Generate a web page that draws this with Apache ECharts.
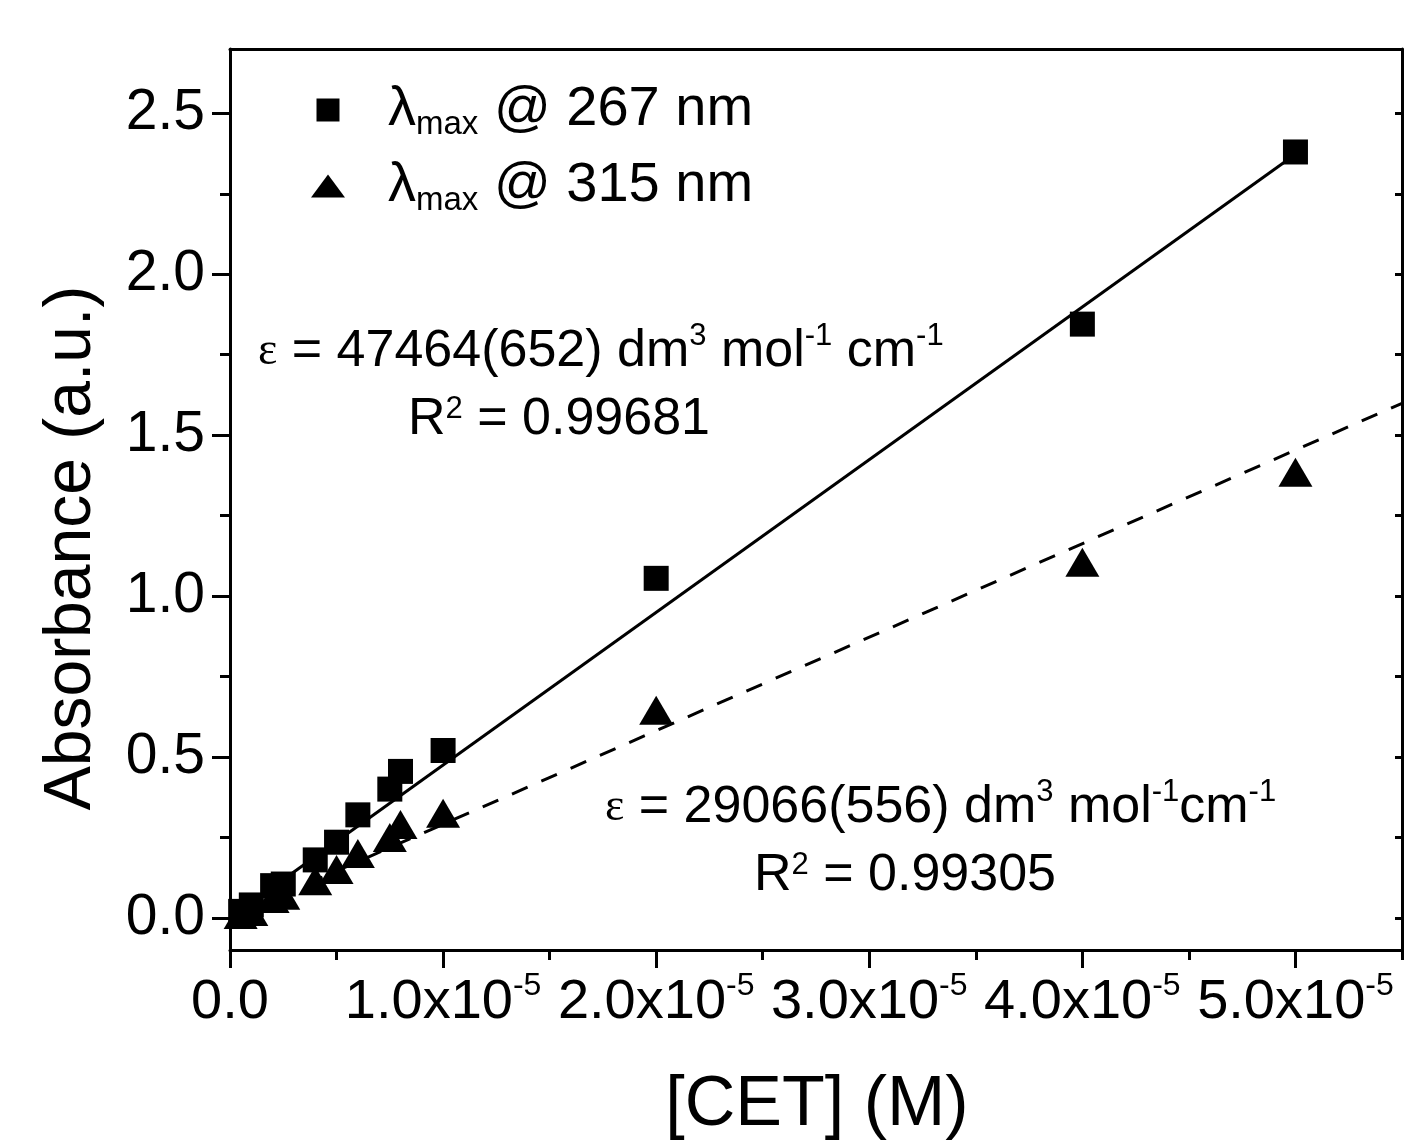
<!DOCTYPE html>
<html><head><meta charset="utf-8">
<script src="https://cdn.jsdelivr.net/npm/echarts@6/dist/echarts.min.js"></script>
<style>html,body{margin:0;padding:0;background:#fff}#c{width:1404px;height:1142px}</style>
</head><body><div id="c"></div>
<script>
// ---- data ----
const concentrations = [0.05e-5, 0.1e-5, 0.2e-5, 0.25e-5, 0.4e-5, 0.5e-5, 0.6e-5, 0.75e-5, 0.8e-5, 1.0e-5, 2.0e-5, 4.0e-5, 5.0e-5];
const abs267 = [0.02, 0.04, 0.10, 0.105, 0.18, 0.235, 0.32, 0.40, 0.455, 0.52, 1.055, 1.845, 2.38];
const abs315 = [0.01, 0.02, 0.06, 0.07, 0.115, 0.15, 0.20, 0.25, 0.29, 0.325, 0.645, 1.105, 1.385];
const fit267X = [0, 5.0e-5];
const fit267Y = [0.0, 2.373];
const fit315X = [0, 5.5e-5];
const fit315Y = [0.0, 1.599];
const xMajorTicks = [0, 1e-5, 2e-5, 3e-5, 4e-5, 5e-5];
const xMinorTicks = [0.5e-5, 1.5e-5, 2.5e-5, 3.5e-5, 4.5e-5, 5.5e-5];
const yMajorTicks = [0, 0.5, 1.0, 1.5, 2.0, 2.5];
const yMinorTicks = [0.25, 0.75, 1.25, 1.75, 2.25];
const yAllTicks = [0, 0.25, 0.5, 0.75, 1.0, 1.25, 1.5, 1.75, 2.0, 2.25, 2.5];
const seriesNames = ['267', '315'];

const FONT = '"Liberation Sans", Arial, sans-serif';
const zip = (xs, ys) => xs.map((x, i) => [x, ys[i]]);

const chart = echarts.init(document.getElementById('c'), null, {renderer: 'canvas'});
const axisLine = {show: true, onZero: false, lineStyle: {color: '#000', width: 3}};
const noLine = {show: false, onZero: false};
const baseX = {type: 'value', min: 0, max: 5.5e-5, splitLine: {show: false}, axisLine: axisLine};
const baseY = {type: 'value', min: -0.1, max: 2.7, splitLine: {show: false}, axisLine: axisLine};

const option = {
  backgroundColor: '#fff',
  animation: false,
  grid: {left: 230, right: 2, top: 49, bottom: 192, containLabel: false},
  xAxis: [
    Object.assign({}, baseX, {
      position: 'bottom',
      axisTick: {show: true, inside: false, length: 18, lineStyle: {width: 3, color: '#000'}, customValues: xMajorTicks},
      axisLabel: {
        show: true, margin: 20, customValues: xMajorTicks,
        formatter: v => v === 0 ? '{n|0.0}' : '{n|' + (v / 1e-5).toFixed(1) + 'x10}{s|-5}',
        rich: {
          n: {fontSize: 56, fontFamily: FONT, color: '#000', lineHeight: 66},
          s: {fontSize: 32, fontFamily: FONT, color: '#000', lineHeight: 16, verticalAlign: 'top'}
        }
      }
    }),
    Object.assign({}, baseX, {
      position: 'bottom', axisLine: noLine,
      axisTick: {show: true, length: 10, lineStyle: {width: 3, color: '#000'}, customValues: xMinorTicks},
      axisLabel: {show: false}
    }),
    Object.assign({}, baseX, {
      position: 'top',
      axisTick: {show: false}, axisLabel: {show: false}
    })
  ],
  yAxis: [
    Object.assign({}, baseY, {
      position: 'left',
      axisTick: {show: true, length: 18, lineStyle: {width: 3, color: '#000'}, customValues: yMajorTicks},
      axisLabel: {show: true, margin: 25, customValues: yMajorTicks, formatter: v => v.toFixed(1),
        fontSize: 57, fontFamily: FONT, color: '#000'}
    }),
    Object.assign({}, baseY, {
      position: 'left', axisLine: noLine,
      axisTick: {show: true, length: 10, lineStyle: {width: 3, color: '#000'}, customValues: yMinorTicks},
      axisLabel: {show: false}
    }),
    Object.assign({}, baseY, {
      position: 'right',
      axisTick: {show: true, inside: true, length: 7, lineStyle: {width: 3, color: '#000'}, customValues: yAllTicks},
      axisLabel: {show: false}
    })
  ],
  legend: {
    orient: 'vertical', left: 306, top: 77, itemGap: 17,
    itemWidth: 34, itemHeight: 23, symbolKeepAspect: true,
    data: [
      {name: seriesNames[0], icon: 'path://M0,0L10,0L10,10L0,10Z'},
      {name: seriesNames[1], icon: 'path://M0,23L17,0L34,23Z'}
    ],
    formatter: name => '{m|\u03bb}{sub|max}{m| @ ' + name + ' nm}',
    textStyle: {
      color: '#000', padding: [0, 0, 0, 38],
      rich: {
        m: {fontSize: 56, fontFamily: FONT, color: '#000', lineHeight: 62},
        sub: {fontSize: 33, fontFamily: FONT, color: '#000', lineHeight: 10, verticalAlign: 'bottom'}
      }
    },
    selectedMode: false
  },
  graphic: [
    {type: 'text', x: 258, y: 352, style: {
      text: '{e|\u03b5} = 47464(652) dm{s|3} mol{s|-1} cm{s|-1}', fill: '#000',
      fontSize: 52, fontFamily: FONT, textAlign: 'left', textVerticalAlign: 'middle',
      rich: {
        e: {fontSize: 46, fontFamily: '"Liberation Serif", serif', fill: '#000', lineHeight: 62},
        s: {fontSize: 31, fontFamily: FONT, fill: '#000', lineHeight: 12, verticalAlign: 'top'}
      }}},
    {type: 'text', x: 559, y: 420, style: {
      text: 'R{s|2} = 0.99681', fill: '#000',
      fontSize: 52, fontFamily: FONT, textAlign: 'center', textVerticalAlign: 'middle',
      rich: {s: {fontSize: 31, fontFamily: FONT, fill: '#000', lineHeight: 12, verticalAlign: 'top'}}}},
    {type: 'text', x: 605, y: 808, style: {
      text: '{e|\u03b5} = 29066(556) dm{s|3} mol{s|-1}cm{s|-1}', fill: '#000',
      fontSize: 52, fontFamily: FONT, textAlign: 'left', textVerticalAlign: 'middle',
      rich: {
        e: {fontSize: 46, fontFamily: '"Liberation Serif", serif', fill: '#000', lineHeight: 62},
        s: {fontSize: 31, fontFamily: FONT, fill: '#000', lineHeight: 12, verticalAlign: 'top'}
      }}},
    {type: 'text', x: 905, y: 876, style: {
      text: 'R{s|2} = 0.99305', fill: '#000',
      fontSize: 52, fontFamily: FONT, textAlign: 'center', textVerticalAlign: 'middle',
      rich: {s: {fontSize: 31, fontFamily: FONT, fill: '#000', lineHeight: 12, verticalAlign: 'top'}}}},
    {type: 'text', x: 817, y: 1106, style: {
      text: '[CET] (M)', fill: '#000', fontSize: 70, fontFamily: FONT,
      textAlign: 'center', textVerticalAlign: 'middle'}},
    {type: 'text', x: 72, y: 548, rotation: Math.PI / 2, style: {
      text: 'Absorbance (a.u.)', fill: '#000', fontSize: 66, fontFamily: FONT,
      textAlign: 'center', textVerticalAlign: 'middle'}}
  ],
  series: [
    {name: 'fit267', type: 'line', xAxisIndex: 0, yAxisIndex: 0, data: zip(fit267X, fit267Y),
      symbol: 'none', lineStyle: {color: '#000', width: 3, type: 'solid'}, z: 1, silent: true},
    {name: 'fit315', type: 'line', xAxisIndex: 0, yAxisIndex: 0, data: zip(fit315X, fit315Y),
      symbol: 'none', lineStyle: {color: '#000', width: 3, type: [17, 15], dashOffset: 12}, z: 1, silent: true},
    {name: seriesNames[0], type: 'scatter', xAxisIndex: 0, yAxisIndex: 0, data: zip(concentrations, abs267),
      symbol: 'rect', symbolSize: 25, itemStyle: {color: '#000', opacity: 1}, z: 3},
    {name: seriesNames[1], type: 'scatter', xAxisIndex: 0, yAxisIndex: 0, data: zip(concentrations, abs315),
      symbol: 'triangle', symbolSize: [34, 29], itemStyle: {color: '#000', opacity: 1}, z: 2}
  ]
};
chart.setOption(option);
</script></body></html>
